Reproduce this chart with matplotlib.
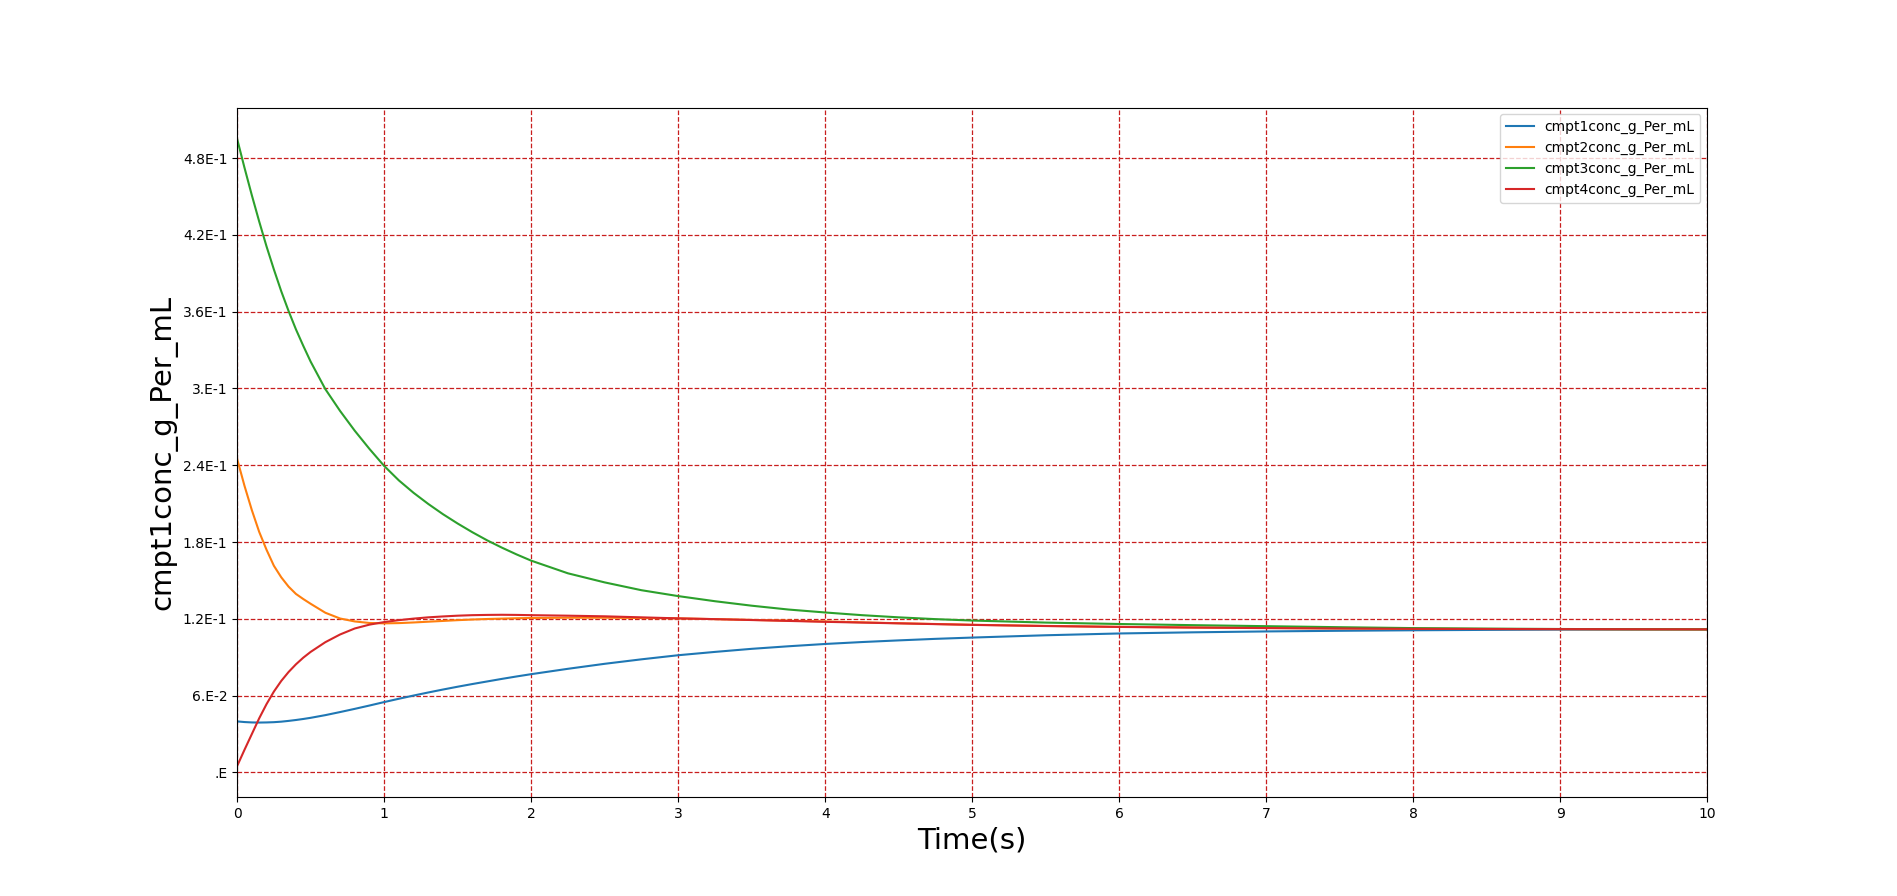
import matplotlib
matplotlib.use("Agg")
import matplotlib.pyplot as plt

time_s = [0, 0.05, 0.1, 0.15, 0.2, 0.25, 0.3, 0.35, 0.4, 0.45, 0.5,
          0.6, 0.7, 0.8, 0.9, 1.0, 1.1, 1.2, 1.3, 1.4, 1.5, 1.6, 1.7, 1.8, 1.9, 2.0,
          2.25, 2.5, 2.75, 3.0, 3.25, 3.5, 3.75, 4.0, 4.25, 4.5, 4.75, 5.0,
          5.5, 6.0, 6.5, 7.0, 7.5, 8.0, 8.5, 9.0, 9.5, 10.0]

cmpt1 = [0.0399, 0.0394, 0.0391, 0.0390, 0.0391, 0.0393, 0.0397, 0.0403, 0.0410, 0.0418, 0.0427,
         0.0448, 0.0472, 0.0497, 0.0523, 0.0550, 0.0576, 0.0601, 0.0625, 0.0648, 0.0670,
         0.0691, 0.0711, 0.0731, 0.0750, 0.0768,
         0.0810, 0.0849, 0.0884, 0.0916, 0.0942, 0.0966, 0.0986, 0.1004, 0.1019, 0.1032,
         0.1044, 0.1054,
         0.1072, 0.1086, 0.1095, 0.1102, 0.1107, 0.1111, 0.1114, 0.1116, 0.1117, 0.1118]
cmpt2 = [0.245, 0.224, 0.205, 0.188, 0.174, 0.1615, 0.1525, 0.1452, 0.1395, 0.1355, 0.1318,
         0.1248, 0.1203, 0.1180, 0.1168, 0.1165, 0.1167, 0.1172, 0.1178, 0.1184, 0.1190,
         0.1195, 0.1199, 0.1202, 0.1205, 0.1207,
         0.1209, 0.1209, 0.1207, 0.1204, 0.1198, 0.1192, 0.1186, 0.1180, 0.1173, 0.1166,
         0.1160, 0.1154,
         0.1145, 0.1138, 0.1133, 0.1129, 0.1126, 0.1123, 0.1121, 0.1120, 0.1119, 0.1118]
cmpt3 = [0.495, 0.4725, 0.451, 0.4305, 0.411, 0.393, 0.376, 0.3605, 0.3462, 0.3333, 0.321,
         0.2995, 0.2825, 0.267, 0.2528, 0.2395, 0.2282, 0.2185, 0.2098, 0.2018, 0.1945,
         0.1877, 0.1814, 0.1757, 0.1704, 0.1655,
         0.1556, 0.1485, 0.1424, 0.1378, 0.1338, 0.1303, 0.1273, 0.1250, 0.1229, 0.1212,
         0.1198, 0.1187,
         0.1171, 0.1160, 0.1151, 0.1143, 0.1135, 0.1128, 0.1124, 0.1121, 0.1119, 0.1118]
cmpt4 = [0.005, 0.0177, 0.030, 0.0423, 0.0534, 0.0632, 0.0715, 0.0785, 0.0845, 0.0897, 0.0942,
         0.1018, 0.1078, 0.1125, 0.1155, 0.1175, 0.1190, 0.1202, 0.1212, 0.1219, 0.1225,
         0.1229, 0.1231, 0.1232, 0.1231, 0.1229,
         0.1225, 0.1220, 0.1212, 0.1204, 0.1198, 0.1191, 0.1184, 0.1177, 0.1171, 0.1165,
         0.1159, 0.1153,
         0.1144, 0.1137, 0.1132, 0.1128, 0.1125, 0.1122, 0.1121, 0.1120, 0.1119, 0.1118]

series_names = ["cmpt1conc_g_Per_mL", "cmpt2conc_g_Per_mL",
                "cmpt3conc_g_Per_mL", "cmpt4conc_g_Per_mL"]

ytick_values = [0.0, 0.06, 0.12, 0.18, 0.24, 0.30, 0.36, 0.42, 0.48]
ytick_labels = [".E", "6.E-2", "1.2E-1", "1.8E-1", "2.4E-1", "3.E-1",
                "3.6E-1", "4.2E-1", "4.8E-1"]
xtick_values = list(range(0, 11))

fig, ax = plt.subplots(figsize=(18.97, 8.96), dpi=100)
for vals, name in zip([cmpt1, cmpt2, cmpt3, cmpt4], series_names):
    ax.plot(time_s, vals, label=name, linewidth=1.5)

ax.set_xlim(0, 10)
ax.set_xticks(xtick_values)
ax.set_yticks(ytick_values)
ax.set_yticklabels(ytick_labels)
ax.grid(True, color="#c81e1e", linestyle="--", linewidth=0.9)
ax.set_xlabel("Time(s)", fontsize=21)
ax.set_ylabel("cmpt1conc_g_Per_mL", fontsize=21)
ax.legend(loc="upper right")

fig.savefig("out.png", dpi=100)
